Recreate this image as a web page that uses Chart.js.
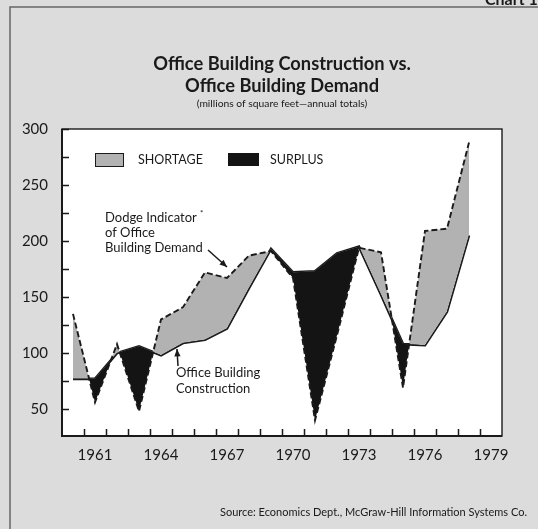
<!DOCTYPE html>
<html>
<head>
<meta charset="utf-8">
<script src="https://cdn.jsdelivr.net/npm/chart.js@4.4.0/dist/chart.umd.min.js"></script>
<style>
    html, body { margin: 0; padding: 0; background: #dcdcdc; }
    #wrap { width: 538px; height: 529px; }
</style>
</head>
<body>
<div id="wrap"><canvas id="myChart" width="538" height="529"></canvas></div>
<script>
// Years on the axis (1979 has no data, it only closes the axis)
const years = ['1960', '1961', '1962', '1963', '1964', '1965', '1966', '1967', '1968', '1969',
               '1970', '1971', '1972', '1973', '1974', '1975', '1976', '1977', '1978', '1979'];
const shownYears = ['1961', '1964', '1967', '1970', '1973', '1976', '1979'];

// Dodge indicator of office building demand (dashed)
const demand = [135, 56, 108, 48, 130, 141, 172, 167, 187, 191,
                167, 40, 116, 194, 190, 69, 209, 211, 288];
// Office building construction (solid)
const construction = [77, 77, 100, 106, 98, 109, 112, 122, 158, 193,
                      172, 173, 189, 195, 152, 108, 107, 137, 205];

const yTicks = [50, 75, 100, 125, 150, 175, 200, 225, 250, 275, 300];
const yLabels = [50, 100, 150, 200, 250, 300];

const FONT = 'Lato, "Open Sans", sans-serif';
const INK = '#1a1a1a';
const GRAY = '#b2b2b2';

function arrow(ctx, x1, y1, x2, y2) {
    const a = Math.atan2(y2 - y1, x2 - x1);
    ctx.beginPath();
    ctx.moveTo(x1, y1);
    ctx.lineTo(x2, y2);
    ctx.stroke();
    ctx.beginPath();
    ctx.moveTo(x2, y2);
    ctx.lineTo(x2 - 8 * Math.cos(a - 0.4), y2 - 8 * Math.sin(a - 0.4));
    ctx.lineTo(x2 - 8 * Math.cos(a + 0.4), y2 - 8 * Math.sin(a + 0.4));
    ctx.closePath();
    ctx.fill();
}

// paper, frame and white plot background
const backdrop = {
    id: 'backdrop',
    beforeDraw(chart) {
        const ctx = chart.ctx;
        const area = chart.chartArea;
        ctx.save();
        ctx.fillStyle = '#dcdcdc';
        ctx.fillRect(0, 0, chart.width, chart.height);
        ctx.strokeStyle = '#666';
        ctx.lineWidth = 1.5;
        ctx.beginPath();
        ctx.moveTo(10, chart.height);
        ctx.lineTo(10, 7);
        ctx.lineTo(chart.width, 7);
        ctx.stroke();
        ctx.fillStyle = INK;
        ctx.font = 'bold 16px ' + FONT;
        ctx.textBaseline = 'middle';
        ctx.fillText('Chart 1', 485, 0);
        ctx.fillStyle = '#fff';
        ctx.fillRect(area.left, area.top, area.right - area.left, area.bottom - area.top);
        ctx.restore();
    }
};

// border, inward ticks, titles, legend, labels
const decorations = {
    id: 'decorations',
    afterDraw(chart) {
        const ctx = chart.ctx;
        const area = chart.chartArea;
        const x = chart.scales.x;
        const y = chart.scales.y;
        ctx.save();
        ctx.strokeStyle = INK;
        ctx.fillStyle = INK;

        ctx.lineWidth = 1.4;
        ctx.strokeRect(area.left, area.top, area.right - area.left, area.bottom - area.top);
        ctx.lineWidth = 2;
        ctx.beginPath();
        ctx.moveTo(area.left, area.top);
        ctx.lineTo(area.left, area.bottom);
        ctx.lineTo(area.right, area.bottom);
        ctx.stroke();

        ctx.lineWidth = 1.5;
        ctx.beginPath();
        yTicks.forEach(v => {
            const py = Math.round(y.getPixelForValue(v)) + 0.5;
            ctx.moveTo(area.left, py);
            ctx.lineTo(area.left + 7, py);
        });
        for (let i = 1; i < years.length; i++) {
            const px = Math.round((x.getPixelForValue(i - 1) + x.getPixelForValue(i)) / 2) + 0.5;
            ctx.moveTo(px, area.bottom);
            ctx.lineTo(px, area.bottom - 7);
        }
        ctx.stroke();

        // titles
        const cx = (area.left + area.right) / 2;
        ctx.textAlign = 'center';
        ctx.textBaseline = 'middle';
        ctx.font = 'bold 18.3px ' + FONT;
        ctx.fillText('Office Building Construction vs.', cx, 64);
        ctx.fillText('Office Building Demand', cx, 86);
        ctx.font = '10.3px ' + FONT;
        ctx.fillText('(millions of square feet\u2014annual totals)', cx, 104);

        // legend
        ctx.textAlign = 'left';
        ctx.lineWidth = 1;
        ctx.fillStyle = GRAY;
        ctx.fillRect(95, 153, 28, 13);
        ctx.strokeRect(95.5, 153.5, 28, 13);
        ctx.fillStyle = '#141414';
        ctx.fillRect(228, 153, 31, 13);
        ctx.fillStyle = INK;
        ctx.font = '12.5px ' + FONT;
        ctx.fillText('SHORTAGE', 138, 160);
        ctx.fillText('SURPLUS', 270, 160);

        // line labels
        ctx.font = '13px ' + FONT;
        ctx.fillText('Dodge Indicator', 105, 218);
        ctx.font = '8px ' + FONT;
        ctx.fillText('*', 200, 213);
        ctx.font = '13px ' + FONT;
        ctx.fillText('of Office', 105, 233);
        ctx.fillText('Building Demand', 105, 248);
        ctx.fillText('Office Building', 176, 373);
        ctx.fillText('Construction', 176, 389);
        ctx.lineWidth = 1.5;
        arrow(ctx, 208, 250, 227, 267);
        arrow(ctx, 178, 366, 177, 349);

        // source
        ctx.textAlign = 'right';
        ctx.font = '11px ' + FONT;
        ctx.fillText('Source: Economics Dept., McGraw-Hill Information Systems Co.', 527, 512);
        ctx.restore();
    }
};

const ctx = document.getElementById('myChart').getContext('2d');
const myChart = new Chart(ctx, {
    type: 'line',
    data: {
        labels: years,
        datasets: [
            {
                label: 'Dodge Indicator of Office Building Demand',
                data: demand,
                borderColor: INK,
                borderWidth: 1.9,
                borderDash: [6, 3],
                pointRadius: 0,
                tension: 0,
                fill: { target: 1, above: GRAY, below: '#141414' }
            },
            {
                label: 'Office Building Construction',
                data: construction,
                borderColor: INK,
                borderWidth: 2.6,
                pointRadius: 0,
                tension: 0,
                fill: false
            }
        ]
    },
    options: {
        responsive: false,
        devicePixelRatio: 1,
        animation: false,
        layout: {
            padding: { left: 0, right: 36, top: 129, bottom: 0 }
        },
        scales: {
            x: {
                type: 'category',
                offset: true,
                grid: { display: false },
                border: { display: false },
                ticks: {
                    autoSkip: false,
                    maxRotation: 0,
                    padding: 2,
                    color: INK,
                    font: { family: FONT, size: 15 },
                    callback: (val, i) => shownYears.includes(years[i]) ? years[i] : ''
                },
                afterFit: (scale) => { scale.height = 93; }
            },
            y: {
                min: 26,
                max: 300,
                grid: { display: false },
                border: { display: false },
                afterBuildTicks: (scale) => { scale.ticks = yTicks.map(v => ({ value: v })); },
                ticks: {
                    padding: 6,
                    color: INK,
                    font: { family: FONT, size: 15 },
                    callback: (val) => yLabels.includes(val) ? val : ''
                },
                afterFit: (scale) => { scale.width = 62; }
            }
        },
        plugins: {
            legend: { display: false },
            tooltip: { enabled: false },
            filler: { propagate: false }
        }
    },
    plugins: [backdrop, decorations]
});
</script>
</body>
</html>
